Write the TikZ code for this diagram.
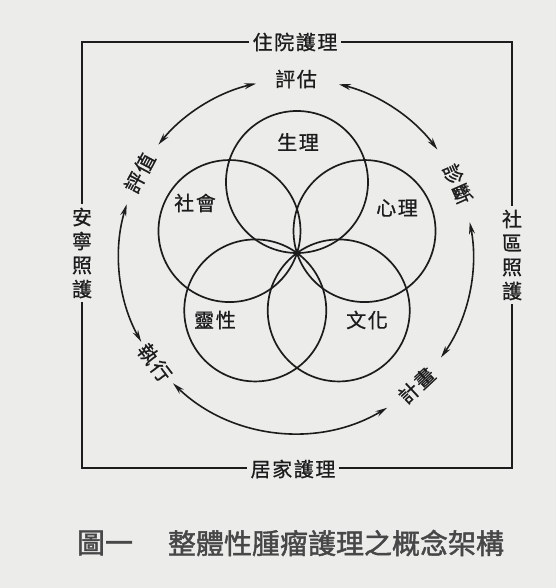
\documentclass[tikz,border=0pt]{standalone}
\usepackage{fontspec}
\usetikzlibrary{arrows.meta}
\newfontfamily\cjk[LetterSpace=8,FakeBold=0.8]{Noto Sans CJK TC}
\newfontfamily\cjkcap[FakeBold=1.6]{Noto Sans CJK TC}
\definecolor{paper}{RGB}{236,236,234}
\definecolor{ink}{RGB}{28,28,28}
\begin{document}
\begin{tikzpicture}[x=1pt,y=1pt,
  lbl/.style={font=\cjk\fontsize{20}{24}\selectfont, text=ink, inner sep=1pt},
  mask/.style={lbl, fill=paper, inner sep=3.5pt},
  ring/.style={circle, draw=ink, line width=1.7pt, minimum size=142pt, inner sep=0pt},
  cyc/.style={draw=ink, line width=1.6pt, arrows={Stealth[length=12pt,width=6pt]-Stealth[length=12pt,width=6pt]}},
  framebox/.style={draw=ink, line width=1.6pt},
  captext/.style={font=\cjkcap\fontsize{28}{28}\selectfont, text=black!72, inner sep=0pt}]
\fill[paper] (-296,-332) rectangle (260,256);
\useasboundingbox (-296,-332) rectangle (260,256);
\coordinate (c) at (0,0);
\coordinate (o) at (1,3);
% frame with care settings
\draw[framebox] (-214,-212) rectangle (216,214);
\node[mask] (hosp) at (-1,214) {住院護理};
\node[mask] (home) at (-3,-213) {居家護理};
\node[mask, align=center] (hospice) at (-214,3) {安\\寧\\照\\護};
\node[mask, align=center] (comm) at (216,1) {社\\區\\照\\護};
% five overlapping circles
\node[ring] (phys) at ([shift={(90:71)}]o) {};
\node[ring] (soc) at ([shift={(162:71)}]o) {};
\node[ring] (psy) at ([shift={(18:71)}]o) {};
\node[ring] (spi) at ([shift={(234:71)}]o) {};
\node[ring] (cul) at ([shift={(306:71)}]o) {};
\node[lbl] (physl) at (2,114) {生理};
\node[lbl] (socl) at (-101,53) {社會};
\node[lbl] (psyl) at (101,48) {心理};
\node[lbl] (spil) at (-81,-64) {靈性};
\node[lbl] (cull) at (71,-64) {文化};
% nursing process cycle
\node[lbl] (assess) at (90:177) {評估};
\node[lbl, rotate=-66] (diag) at (24:177) {診斷};
\node[lbl, rotate=43] (plan) at (-47:177) {計畫};
\node[lbl, rotate=-53] (impl) at (217:177) {執行};
\node[lbl, rotate=62] (eval) at (152:177) {評值};
\draw[cyc] ([shift={(76:177)}]c) arc[start angle=76, end angle=37, radius=177pt];
\draw[cyc] ([shift={(11:177)}]c) arc[start angle=11, end angle=-35, radius=177pt];
\draw[cyc] ([shift={(-59:177)}]c) arc[start angle=-59, end angle=-134, radius=177pt];
\draw[cyc] ([shift={(209:177)}]c) arc[start angle=209, end angle=163, radius=177pt];
\draw[cyc] ([shift={(141:177)}]c) arc[start angle=141, end angle=103, radius=177pt];
% caption
\node[captext] (fig) at (-191,-287) {圖一};
\node[captext] (title) at (40,-287) {整體性腫瘤護理之概念架構};
\end{tikzpicture}
\end{document}
